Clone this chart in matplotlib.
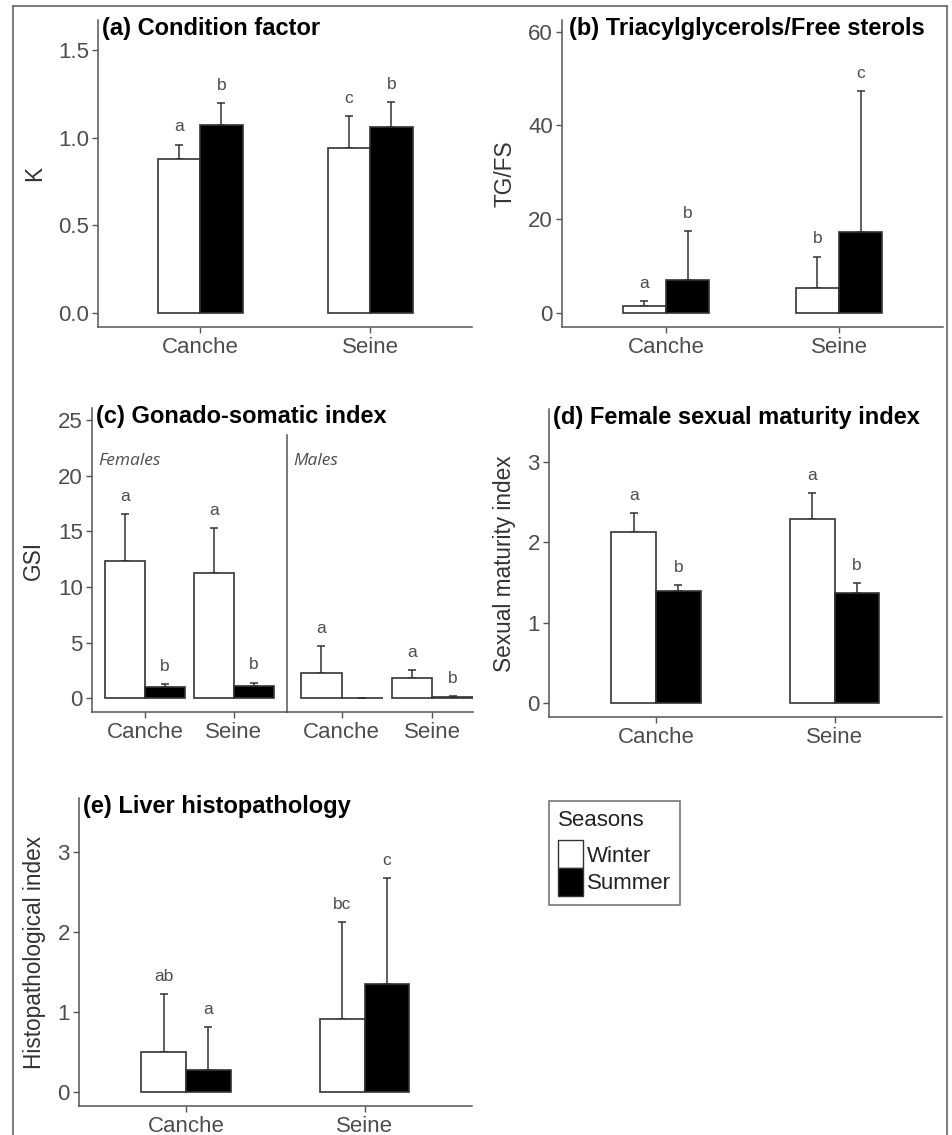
import numpy as np
import matplotlib
matplotlib.use('Agg')
import matplotlib.pyplot as plt
from matplotlib.patches import Patch
from matplotlib.lines import Line2D
from matplotlib import transforms

plt.rcParams['font.family'] = ['Liberation Sans', 'DejaVu Sans']

sites = ['Canche', 'Seine']

# (a) condition factor
k_winter = [0.88, 0.94]
k_winter_sd = [0.08, 0.18]
k_summer = [1.07, 1.06]
k_summer_sd = [0.125, 0.14]
k_let_w = ['a', 'c']
k_let_s = ['b', 'b']

# (b) TG/FS
tg_winter = [1.5, 5.2]
tg_winter_sd = [1.0, 6.8]
tg_summer = [7.0, 17.2]
tg_summer_sd = [10.4, 30.1]
tg_let_w = ['a', 'b']
tg_let_s = ['b', 'c']

# (c) GSI, females / males
gsi_f_winter = [12.37, 11.23]
gsi_f_winter_sd = [4.17, 4.10]
gsi_f_summer = [1.0, 1.11]
gsi_f_summer_sd = [0.27, 0.30]
gsi_f_let_w = ['a', 'a']
gsi_f_let_s = ['b', 'b']
gsi_m_winter = [2.23, 1.78]
gsi_m_winter_sd = [2.42, 0.78]
gsi_m_summer = [0.0, 0.07]
gsi_m_summer_sd = [0.0, 0.15]
gsi_m_let_w = ['a', 'a']
gsi_m_let_s = ['', 'b']

# (d) female sexual maturity index
smi_winter = [2.13, 2.29]
smi_winter_sd = [0.24, 0.33]
smi_summer = [1.40, 1.37]
smi_summer_sd = [0.07, 0.12]
smi_let_w = ['a', 'a']
smi_let_s = ['b', 'b']

# (e) liver histopathology
hist_winter = [0.49, 0.91]
hist_winter_sd = [0.73, 1.21]
hist_summer = [0.27, 1.35]
hist_summer_sd = [0.54, 1.32]
hist_let_w = ['ab', 'bc']
hist_let_s = ['a', 'c']

EDGE = '#333333'
GREY = '#4d4d4d'
AXC = '#555555'

W, H = 952, 1135
fig = plt.figure(figsize=(W / 100, H / 100), dpi=100)


def add_ax(l, t, r, b):
    return fig.add_axes([l / W, 1 - b / H, (r - l) / W, (b - t) / H])


def style(ax, ylim, yticks, xlim=(0.4, 2.6)):
    ax.set_xlim(*xlim)
    ax.set_ylim(*ylim)
    ax.set_yticks(yticks)
    ax.set_xticks([1, 2])
    ax.set_xticklabels(sites)
    for s in ['top', 'right']:
        ax.spines[s].set_visible(False)
    for s in ['left', 'bottom']:
        ax.spines[s].set_color(AXC)
        ax.spines[s].set_linewidth(1.1)
    ax.tick_params(colors=AXC, labelcolor=GREY, labelsize=16, length=4, width=1, pad=2.5)
    ax.tick_params(axis='x', pad=3)


def draw(ax, w, wsd, s, ssd, lw_, ls_, width):
    x = np.arange(1, len(sites) + 1)
    for off, m, sd, fc, let in [(-width / 2, w, wsd, 'white', lw_), (width / 2, s, ssd, 'black', ls_)]:
        ax.errorbar(x + off, m, yerr=[np.zeros(len(m)), sd], fmt='none', ecolor=EDGE,
                    elinewidth=1.1, capsize=3, capthick=1.1, zorder=1)
        ax.bar(x + off, m, width, color=fc, edgecolor=EDGE, linewidth=1.2, zorder=2)
        for xi, mi, si, t in zip(x + off, m, sd, let):
            ax.annotate(t, (xi, mi + si), xytext=(0, 9.5), textcoords='offset points',
                        ha='center', va='baseline', fontsize=12.5, color=GREY)


def title(ax, txt, dx=3):
    ax.annotate(txt, (0, 1), xycoords='axes fraction', xytext=(dx, -6), textcoords='offset points',
                ha='left', va='center', fontsize=17, fontweight='bold', color='black', zorder=10)


def ylabel(ax, txt, xpx):
    ax.set_ylabel(txt, fontsize=16.3, color='#333333')
    ax.yaxis.set_label_coords(xpx / W, 0.5, transform=transforms.blended_transform_factory(fig.transFigure, ax.transAxes))


# (a)
ax = add_ax(98, 20, 472, 327)
style(ax, (-0.08, 1.67), [0, 0.5, 1.0, 1.5])
ax.set_yticklabels(['0.0', '0.5', '1.0', '1.5'])
draw(ax, k_winter, k_winter_sd, k_summer, k_summer_sd, k_let_w, k_let_s, 0.25)
title(ax, '(a) Condition factor')
ylabel(ax, 'K', 46)

# (b)
ax = add_ax(562, 20, 943, 327)
style(ax, (-3.05, 62.5), [0, 20, 40, 60])
draw(ax, tg_winter, tg_winter_sd, tg_summer, tg_summer_sd, tg_let_w, tg_let_s, 0.25)
title(ax, '(b) Triacylglycerols/Free sterols', dx=5)
ylabel(ax, 'TG/FS', 516)

# (c)
axm = add_ax(287.3, 408, 473.3, 712.3)
axm.patch.set_visible(False)
style(axm, (-1.27, 26.1), [], xlim=(0.4, 2.45))
axm.spines['left'].set_bounds(-1.27, 23.7)
draw(axm, gsi_m_winter, gsi_m_winter_sd, gsi_m_summer, gsi_m_summer_sd, gsi_m_let_w, gsi_m_let_s, 0.45)
axf = add_ax(91.7, 408, 287.3, 712.3)
axf.patch.set_visible(False)
style(axf, (-1.27, 26.1), [0, 5, 10, 15, 20, 25])
draw(axf, gsi_f_winter, gsi_f_winter_sd, gsi_f_summer, gsi_f_summer_sd, gsi_f_let_w, gsi_f_let_s, 0.45)
title(axf, '(c) Gonado-somatic index')
ylabel(axf, 'GSI', 45)
for a_, txt in [(axf, 'Females'), (axm, 'Males')]:
    a_.annotate(txt, (0, 1), xycoords='axes fraction', xytext=(4.5, -38), textcoords='offset points',
                ha='left', va='center', fontsize=12.5, style='italic', color=GREY,
                family=['Open Sans', 'DejaVu Sans'])

# (d)
ax = add_ax(549, 409.3, 941.7, 717.3)
style(ax, (-0.18, 3.66), [0, 1, 2, 3])
draw(ax, smi_winter, smi_winter_sd, smi_summer, smi_summer_sd, smi_let_w, smi_let_s, 0.25)
title(ax, '(d) Female sexual maturity index')
ylabel(ax, 'Sexual maturity index', 516)

# (e)
ax = add_ax(79, 798.3, 471.7, 1106)
style(ax, (-0.18, 3.67), [0, 1, 2, 3])
draw(ax, hist_winter, hist_winter_sd, hist_summer, hist_summer_sd, hist_let_w, hist_let_s, 0.25)
title(ax, '(e) Liver histopathology')
ylabel(ax, 'Histopathological index', 46)

# legend
handles = [Patch(facecolor='white', edgecolor=EDGE), Patch(facecolor='black', edgecolor=EDGE)]
leg = fig.legend(handles, ['Winter', 'Summer'], title='Seasons', loc='upper left',
                 bbox_to_anchor=(549 / W, 1 - 800.7 / H), frameon=True, fancybox=False,
                 edgecolor=AXC, fontsize=16, title_fontsize=16, handlelength=1.15,
                 handleheight=1.55, labelspacing=0.0, handletextpad=0.15, borderpad=0.4,
                 borderaxespad=0, alignment='left')
leg._legend_box.sep = 7
leg.get_frame().set_linewidth(1.2)
for t in leg.get_texts():
    t.set_color('#222222')
leg.get_title().set_color('#222222')

# outer frame
for xs, ys in [([13, 13], [6, H]), ([13, 947], [6, 6]), ([947, 947], [6, H])]:
    fig.add_artist(Line2D([x / W for x in xs], [1 - y / H for y in ys], transform=fig.transFigure,
                          color='#666666', lw=1.2))

fig.savefig('out.png', dpi=100)
